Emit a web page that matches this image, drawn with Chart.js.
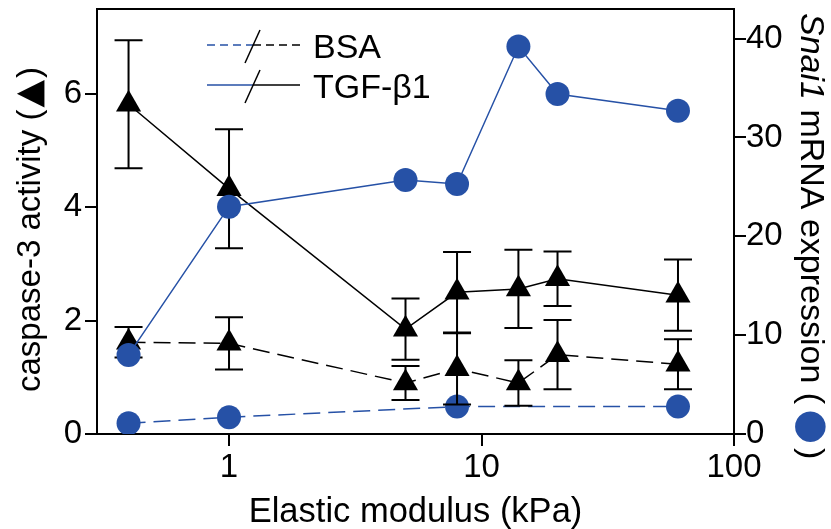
<!DOCTYPE html>
<html>
<head>
<meta charset="utf-8">
<script src="https://cdn.jsdelivr.net/npm/chart.js@4/dist/chart.umd.min.js"></script>
<style>
body{margin:0;background:#fff;}
canvas{display:block;}
</style>
</head>
<body>
<canvas id="grafico" width="831" height="529"></canvas>
<script>

/* =============================
DADOS
============================= */

const modulo=[0.4,1,5,8,14,20,60];

const caspaseTGF=[5.82,4.33,1.85,2.5,2.56,2.74,2.45];
const caspaseTGFerro=[1.13,1.05,0.54,0.71,0.69,0.48,0.63];

const caspaseBSA=[1.62,1.6,0.9,1.15,0.9,1.4,1.23];
const caspaseBSAerro=[0.27,0.46,0.3,0.63,0.4,0.61,0.44];

const snaiTGF=[8.0,23.0,25.7,25.3,39.2,34.4,32.7];

const moduloSnaiBSA=[0.4,1,8,60];
const snaiBSA=[1.08,1.7,2.77,2.77];

const ticksX=[1,10,100];
const ticksCaspase=[0,2,4,6];
const ticksSnai=[0,10,20,30,40];

const legendas=["BSA","TGF-\u03b21"];

const AZUL="#2651a6";
const PRETO="#000";
const FONTE="'Liberation Sans', Arial, 'DejaVu Sans', sans-serif";

function pontos(xs,ys){
return xs.map((x,i)=>({x:x,y:ys[i]}));
}

/* =============================
BARRAS DE ERRO
============================= */

const barrasErro={
id:"barrasErro",
afterDatasetDraw(chart,args){
const ds=chart.data.datasets[args.index];
if(!ds.erro) return;
const meta=args.meta;
const escala=chart.scales[meta.yAxisID];
const ctx=chart.ctx;
ctx.save();
ctx.strokeStyle=PRETO;
ctx.lineWidth=2;
meta.data.forEach((p,i)=>{
const v=ds.data[i].y,e=ds.erro[i];
const yTopo=escala.getPixelForValue(v+e);
const yBase=escala.getPixelForValue(v-e);
ctx.beginPath();
ctx.moveTo(p.x,yTopo);ctx.lineTo(p.x,yBase);
ctx.moveTo(p.x-14,yTopo);ctx.lineTo(p.x+14,yTopo);
ctx.moveTo(p.x-14,yBase);ctx.lineTo(p.x+14,yBase);
ctx.stroke();
});
ctx.restore();
}
};

/* =============================
MOLDURA, TITULOS E LEGENDA
============================= */

function textoPartes(ctx,partes){
let x=0;
partes.forEach(p=>{
ctx.font=p.font;
ctx.fillStyle=p.cor||PRETO;
ctx.fillText(p.t,x,p.dy||0);
x+=ctx.measureText(p.t).width+(p.gap||0);
});
return x;
}

const extras={
id:"extras",
afterDraw(chart){
const ctx=chart.ctx;
const a=chart.chartArea;
ctx.save();

/* moldura */
ctx.strokeStyle=PRETO;
ctx.lineWidth=2;
ctx.beginPath();
ctx.moveTo(a.left,a.top);ctx.lineTo(a.right,a.top);
ctx.stroke();

/* titulo x */
ctx.fillStyle=PRETO;
ctx.font="34.5px "+FONTE;
ctx.textAlign="center";
ctx.textBaseline="alphabetic";
ctx.fillText("Elastic modulus (kPa)",(a.left+a.right)/2,522);

/* titulo esquerdo */
ctx.save();
ctx.translate(31,392);
ctx.rotate(-Math.PI/2);
ctx.textAlign="left";
ctx.textBaseline="middle";
textoPartes(ctx,[
{t:"caspase-3 activity (",font:"33px "+FONTE,gap:2},
{t:"\u25b2",font:"36px 'DejaVu Sans'",gap:2},
{t:")",font:"33px "+FONTE}
]);
ctx.restore();

/* titulo direito */
ctx.save();
ctx.translate(810,13);
ctx.rotate(Math.PI/2);
ctx.textAlign="left";
ctx.textBaseline="middle";
textoPartes(ctx,[
{t:"Snai1",font:"italic 34px "+FONTE},
{t:" mRNA expression (",font:"34px "+FONTE,gap:5},
{t:"\u25cf",font:"40px 'DejaVu Sans'",cor:AZUL,gap:4},
{t:")",font:"34px "+FONTE}
]);
ctx.restore();

/* legenda */
const linhas=[{y:45,dash:[8,5]},{y:85,dash:[]}];
linhas.forEach((l,i)=>{
ctx.lineWidth=1.5;
ctx.setLineDash(l.dash);
ctx.strokeStyle=AZUL;
ctx.beginPath();ctx.moveTo(207,l.y);ctx.lineTo(253,l.y);ctx.stroke();
ctx.strokeStyle=PRETO;
ctx.beginPath();ctx.moveTo(253,l.y);ctx.lineTo(300,l.y);ctx.stroke();
ctx.setLineDash([]);
ctx.beginPath();ctx.moveTo(245,l.y+18);ctx.lineTo(260,l.y-15);ctx.stroke();
ctx.fillStyle=PRETO;
ctx.font="34px "+FONTE;
ctx.textAlign="left";
ctx.textBaseline="middle";
ctx.fillText(legendas[i],313,l.y+4);
});

ctx.restore();
}
};

/* =============================
GRAFICO
============================= */

const fonteTick={family:FONTE,size:33};

function semPaddingY(s,largura){
s.width=largura;
s.paddingTop=0;
s.paddingBottom=0;
}

new Chart(document.getElementById("grafico"),{
type:"line",
data:{
datasets:[
{
label:"Snai1 TGF",
data:pontos(modulo,snaiTGF),
yAxisID:"ySnai",
borderColor:AZUL,
borderWidth:1.5,
pointStyle:"circle",
pointRadius:12,
pointBackgroundColor:AZUL,
pointBorderWidth:0
},
{
label:"caspase TGF",
data:pontos(modulo,caspaseTGF),
erro:caspaseTGFerro,
yAxisID:"yCaspase",
borderColor:PRETO,
borderWidth:1.5,
pointStyle:"triangle",
pointRadius:14.5,
pointBackgroundColor:PRETO,
pointBorderWidth:0
},
{
label:"caspase BSA",
data:pontos(modulo,caspaseBSA),
erro:caspaseBSAerro,
yAxisID:"yCaspase",
borderColor:PRETO,
borderWidth:1.5,
borderDash:[17,8],
pointStyle:"triangle",
pointRadius:14.5,
pointBackgroundColor:PRETO,
pointBorderWidth:0
},
{
label:"Snai1 BSA",
data:pontos(moduloSnaiBSA,snaiBSA),
yAxisID:"ySnai",
borderColor:AZUL,
borderWidth:1.5,
borderDash:[17,8],
pointStyle:"circle",
pointRadius:12,
pointBackgroundColor:AZUL,
pointBorderWidth:0
}
]
},
options:{
responsive:false,
animation:false,
layout:{autoPadding:false,padding:{top:9,left:0,right:0,bottom:0}},
plugins:{legend:{display:false},tooltip:{enabled:false}},
scales:{
x:{
type:"logarithmic",
min:0.3,
max:100,
afterBuildTicks:s=>{s.ticks=ticksX.map(v=>({value:v}));},
afterFit:s=>{s.height=95;s.paddingLeft=0;s.paddingRight=0;},
ticks:{font:fonteTick,color:PRETO,padding:2,autoSkip:false,maxRotation:0,callback:v=>String(v)},
grid:{drawOnChartArea:false,tickLength:12,color:PRETO,lineWidth:2},
border:{color:PRETO,width:2}
},
yCaspase:{
position:"left",
min:0,
max:7.5,
afterBuildTicks:s=>{s.ticks=ticksCaspase.map(v=>({value:v}));},
afterFit:s=>semPaddingY(s,97),
ticks:{font:fonteTick,color:PRETO,padding:3},
grid:{drawOnChartArea:false,tickLength:12,color:PRETO,lineWidth:2},
border:{color:PRETO,width:2}
},
ySnai:{
position:"right",
min:0,
max:43,
afterBuildTicks:s=>{s.ticks=ticksSnai.map(v=>({value:v}));},
afterFit:s=>semPaddingY(s,97),
ticks:{font:fonteTick,color:PRETO,padding:0},
grid:{drawOnChartArea:false,tickLength:12,color:PRETO,lineWidth:2},
border:{color:PRETO,width:2}
}
}
},
plugins:[barrasErro,extras]
});

</script>
</body>
</html>
